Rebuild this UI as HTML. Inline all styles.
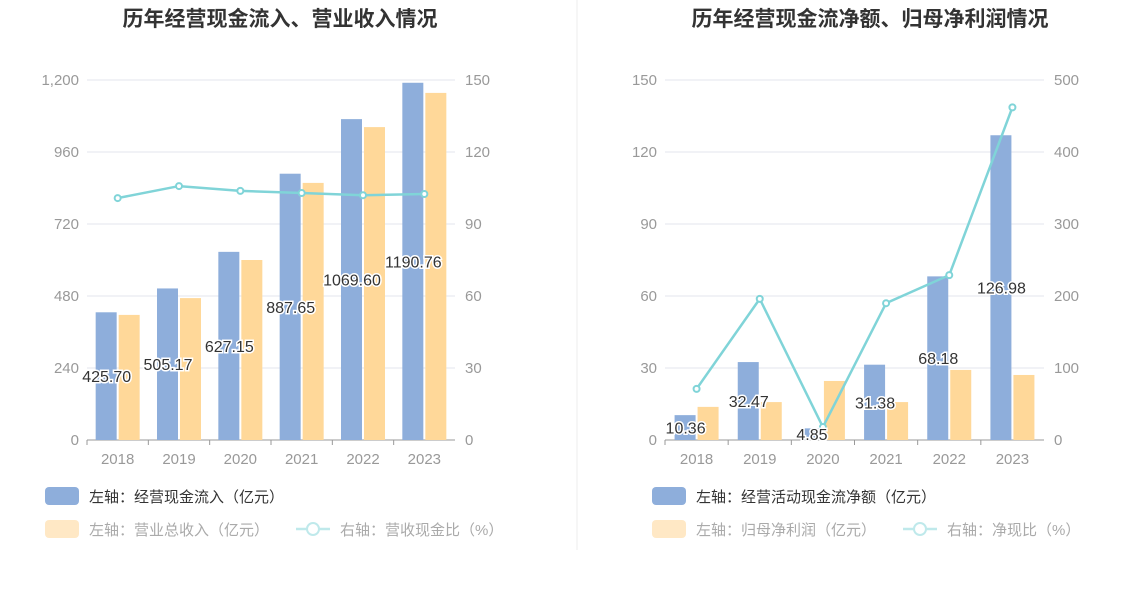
<!DOCTYPE html>
<html><head><meta charset="utf-8"><style>
body{margin:0;background:#fff;width:1148px;height:589px;overflow:hidden;font-family:"Liberation Sans","Noto Sans CJK SC",sans-serif}
svg text{font-family:"Liberation Sans","Noto Sans CJK SC",sans-serif}
</style></head><body>
<svg id="svg" width="1148" height="589">
<line x1="577" y1="0" x2="577" y2="550" stroke="#eee"/>
</svg>
<script>
const years=["2018","2019","2020","2021","2022","2023"];
const inflow=[425.70,505.17,627.15,887.65,1069.60,1190.76];
const revenue=[417,473,600,857,1043,1157];
const ratio1=[100.8,105.8,103.8,102.9,102.0,102.5];
const netCash=[10.36,32.47,4.85,31.38,68.18,126.98];
const netProfit=[13.8,15.8,24.6,15.8,29.2,27.1];
const ratio2=[71,196,18,190,229,462];
const leftTicks1=["0","240","480","720","960","1,200"];
const rightTicks1=["0","30","60","90","120","150"];
const leftTicks2=["0","30","60","90","120","150"];
const rightTicks2=["0","100","200","300","400","500"];
const svg=document.getElementById('svg');
const NS="http://www.w3.org/2000/svg";
function mk(t,a,txt){const e=document.createElementNS(NS,t);for(const k in a)e.setAttribute(k,a[k]);if(txt!==undefined)e.textContent=txt;svg.appendChild(e);return e;}
function chart(o){
  const x0=o.x0,x1=o.x1,yB=440,yT=80;
  const yL=v=>yB-(v/o.lmax)*(yB-yT), yR=v=>yB-(v/o.rmax)*(yB-yT);
  const bw=(x1-x0)/years.length;
  const cx=i=>x0+bw*(i+0.5);
  let e=mk('text',{x:o.tx,y:26,'text-anchor':'middle','font-size':21,'font-weight':'bold',fill:'#333'},o.title);
  
  for(let i=0;i<6;i++){const y=yB-i*(yB-yT)/5;
    if(i>0){e=mk('line',{x1:x0,x2:x1,y1:y,y2:y,stroke:'#e3e6ee'});}
    e=mk('text',{x:x0-8,y:y+5,'text-anchor':'end','font-size':15,fill:'#999'},o.lt[i]);
    e=mk('text',{x:x1+10,y:y+5,'font-size':15,fill:'#999'},o.rt[i]);
  }
  e=mk('line',{x1:x0,x2:x1,y1:yB,y2:yB,stroke:'#999'});
  years.forEach((yr,i)=>{
    e=mk('line',{x1:x0+bw*i,x2:x0+bw*i,y1:yB,y2:yB+5,stroke:'#999'});
    e=mk('text',{x:cx(i),y:464,'text-anchor':'middle','font-size':15,fill:'#999'},yr);
    e=mk('rect',{x:cx(i)-22,y:yL(o.a[i]),width:21,height:yB-yL(o.a[i]),fill:'#8eaedb'});
    e=mk('rect',{x:cx(i)+1,y:yL(o.b[i]),width:21,height:yB-yL(o.b[i]),fill:'#ffd899'});
  });
  e=mk('polyline',{points:o.c.map((v,i)=>cx(i)+','+yR(v)).join(' '),fill:'none',stroke:'#80d4d8','stroke-width':2.5});
  o.c.forEach((v,i)=>{e=mk('circle',{cx:cx(i),cy:yR(v),r:3,fill:'#fff',stroke:'#80d4d8','stroke-width':2});});
  o.a.forEach((v,i)=>{const y=(yL(v)+yB)/2+6;
    e=mk('text',{x:cx(i)-11,y:y,'text-anchor':'middle','font-size':16,fill:'#333',stroke:'#fff','stroke-width':3,'paint-order':'stroke'},v.toFixed(2));});
  const L=o.lx;
  e=mk('rect',{x:L,y:487,width:34,height:18,rx:4,fill:'#8eaedb'});
  e=mk('text',{x:L+44,y:502,'font-size':15,fill:'#333'},o.l1);
  e=mk('rect',{x:L,y:520,width:34,height:18,rx:4,fill:'#ffe8c5'});
  e=mk('text',{x:L+44,y:535,'font-size':15,fill:'#aaa'},o.l2);
  e=mk('line',{x1:o.l3x,x2:o.l3x+34,y1:529,y2:529,stroke:'#bfe9eb','stroke-width':2.5});
  e=mk('circle',{cx:o.l3x+17,cy:529,r:6,fill:'#fff',stroke:'#bfe9eb','stroke-width':2});
  e=mk('text',{x:o.l3x+44,y:535,'font-size':15,fill:'#aaa'},o.l3);
}
chart({p:'left',x0:87,x1:455,lmax:1200,rmax:150,tx:280,title:'历年经营现金流入、营业收入情况',a:inflow,b:revenue,c:ratio1,lt:leftTicks1,rt:rightTicks1,lx:45,l1:'左轴：经营现金流入（亿元）',l2:'左轴：营业总收入（亿元）',l3x:296,l3:'右轴：营收现金比（%）'});
chart({p:'right',x0:665,x1:1044,lmax:150,rmax:500,tx:870,title:'历年经营现金流净额、归母净利润情况',a:netCash,b:netProfit,c:ratio2,lt:leftTicks2,rt:rightTicks2,lx:652,l1:'左轴：经营活动现金流净额（亿元）',l2:'左轴：归母净利润（亿元）',l3x:903,l3:'右轴：净现比（%）'});
</script>
</body></html>
